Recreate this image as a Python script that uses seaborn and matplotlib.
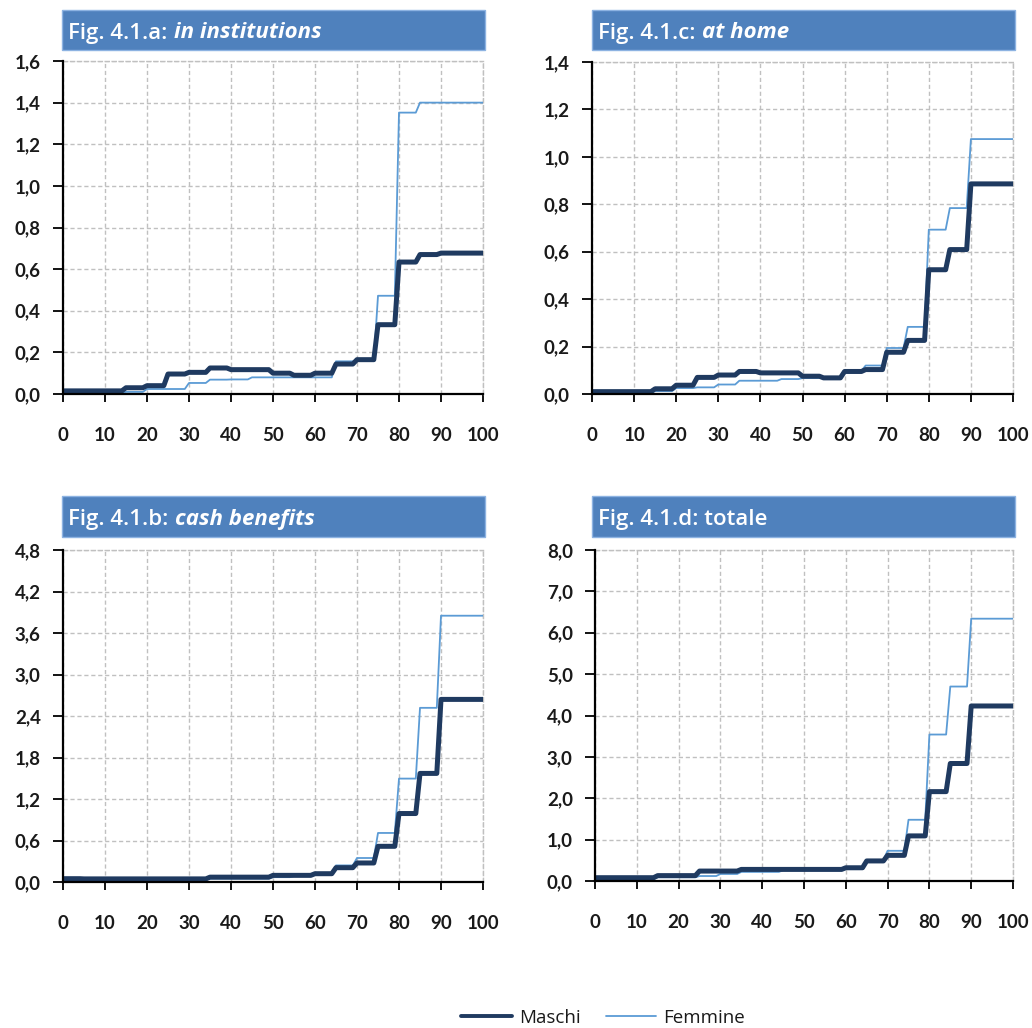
import numpy as np
import pandas as pd
import matplotlib
matplotlib.use("Agg")
import matplotlib.pyplot as plt
from matplotlib.patches import Rectangle
from matplotlib.lines import Line2D
from matplotlib.ticker import FuncFormatter, MultipleLocator
import seaborn as sns

# ---------------- data (values per 5-year age band: 0-4, 5-9, ..., 95+) ----------------
band_starts = [0, 5, 10, 15, 20, 25, 30, 35, 40, 45, 50, 55, 60, 65, 70, 75, 80, 85, 90, 95]

inst_maschi = [0.015, 0.015, 0.015, 0.03, 0.04, 0.096, 0.104, 0.125, 0.117, 0.117,
               0.10, 0.09, 0.10, 0.144, 0.165, 0.333, 0.634, 0.67, 0.677, 0.677]
inst_femmine = [0.005, 0.005, 0.005, 0.01, 0.024, 0.024, 0.053, 0.069, 0.07, 0.08,
                0.08, 0.08, 0.08, 0.157, 0.16, 0.472, 1.352, 1.40, 1.40, 1.40]

home_maschi = [0.01, 0.01, 0.01, 0.022, 0.037, 0.07, 0.08, 0.095, 0.089, 0.089,
               0.075, 0.068, 0.095, 0.103, 0.176, 0.226, 0.524, 0.609, 0.886, 0.886]
home_femmine = [0.005, 0.005, 0.005, 0.012, 0.025, 0.028, 0.04, 0.056, 0.056, 0.063,
                0.067, 0.07, 0.098, 0.12, 0.194, 0.283, 0.693, 0.784, 1.075, 1.075]

cash_maschi = [0.048, 0.045, 0.045, 0.045, 0.045, 0.045, 0.045, 0.07, 0.07, 0.07,
               0.096, 0.096, 0.12, 0.207, 0.275, 0.516, 0.99, 1.57, 2.64, 2.64]
cash_femmine = [0.03, 0.03, 0.03, 0.03, 0.03, 0.03, 0.03, 0.05, 0.05, 0.05,
                0.07, 0.085, 0.11, 0.24, 0.347, 0.709, 1.495, 2.518, 3.85, 3.85]

tot_maschi = [0.08, 0.08, 0.08, 0.13, 0.13, 0.24, 0.24, 0.28, 0.28, 0.28,
              0.28, 0.28, 0.32, 0.485, 0.62, 1.09, 2.16, 2.84, 4.23, 4.23]
tot_femmine = [0.04, 0.04, 0.04, 0.09, 0.09, 0.12, 0.17, 0.22, 0.22, 0.26,
               0.26, 0.26, 0.30, 0.51, 0.73, 1.48, 3.54, 4.70, 6.34, 6.34]

series_names = ["Maschi", "Femmine"]
panel_prefix = ["Fig. 4.1.a: ", "Fig. 4.1.c: ", "Fig. 4.1.b: ", "Fig. 4.1.d: totale"]
panel_italic = ["in institutions", "at home", "cash benefits", ""]
y_max = [1.6, 1.4, 4.8, 8.0]
y_step = [0.2, 0.2, 0.6, 1.0]
x_ticks = [0, 10, 20, 30, 40, 50, 60, 70, 80, 90, 100]

# ---------------- styling ----------------
sns.set_style("white")
plt.rcParams["font.family"] = ["Lato", "DejaVu Sans"]
TITLE_FONT = ["Open Sans", "DejaVu Sans"]

DARK = "#1f3a60"
LIGHT = "#5b9bd5"
BAR = "#4f81bd"
TXT = "#1a1a1a"
GRID = "#c0c0c0"

W, H = 1032, 1028
fig = plt.figure(figsize=(W / 100, H / 100), dpi=100)

def fx(px):
    return px / W

def fy(py):
    return 1 - py / H

# axes boxes in pixels: left, top, right, bottom
ax_boxes = [(63, 61, 483, 394), (592, 62, 1013, 394),
            (63, 550, 483, 882), (595, 550, 1013, 881)]
bar_boxes = [(62, 10, 485, 50), (592, 10, 1015, 50),
             (62, 496, 485, 537), (592, 496, 1015, 537)]

data_sets = [(inst_maschi, inst_femmine), (home_maschi, home_femmine),
             (cash_maschi, cash_femmine), (tot_maschi, tot_femmine)]

ages = np.arange(0, 101)

def expand(vals):
    idx = np.minimum(ages // 5, len(band_starts) - 1)
    return np.asarray(vals)[idx]

fmt = FuncFormatter(lambda v, p: f"{v:.1f}".replace(".", ","))

for i in range(4):
    l, t, r, b = ax_boxes[i]
    ax = fig.add_axes([fx(l), fy(b), fx(r) - fx(l), fy(t) - fy(b)])
    m, f = data_sets[i]
    df = pd.DataFrame({
        "age": np.concatenate([ages, ages]),
        "value": np.concatenate([expand(m), expand(f)]),
        "sex": [series_names[0]] * len(ages) + [series_names[1]] * len(ages),
    })
    sns.lineplot(data=df[df.sex == "Femmine"], x="age", y="value", ax=ax,
                 color=LIGHT, linewidth=1.3, legend=False, zorder=3)
    sns.lineplot(data=df[df.sex == "Maschi"], x="age", y="value", ax=ax,
                 color=DARK, linewidth=3.6, legend=False, zorder=4)
    ax.set_xlim(0, 100)
    ax.set_ylim(0, y_max[i])
    ax.set_xticks(x_ticks)
    ax.yaxis.set_major_locator(MultipleLocator(y_step[i]))
    ax.yaxis.set_major_formatter(fmt)
    ax.set_xlabel("")
    ax.set_ylabel("")
    ax.grid(True, color=GRID, linestyle=(0, (3, 2)), linewidth=1.0)
    ax.set_axisbelow(True)
    for s in ["top", "right"]:
        ax.spines[s].set_color(GRID)
        ax.spines[s].set_linestyle((0, (3, 2)))
        ax.spines[s].set_linewidth(1.0)
    for s in ["left", "bottom"]:
        ax.spines[s].set_color("black")
        ax.spines[s].set_linewidth(1.6)
        ax.spines[s].set_zorder(5)
    ax.tick_params(axis="x", direction="out", length=6, width=1.3, color="black",
                   pad=18, labelsize=13.5, labelcolor=TXT)
    ax.tick_params(axis="y", direction="out", length=7, width=1.3, color="black",
                   pad=9, labelsize=13.5, labelcolor=TXT)
    ax.tick_params(left=True, bottom=True, top=False, right=False)
    for lab in ax.get_xticklabels() + ax.get_yticklabels():
        lab.set_fontweight("bold")

    # title bar
    bl, bt, br, bb = bar_boxes[i]
    rect = Rectangle((fx(bl), fy(bb)), fx(br) - fx(bl), fy(bt) - fy(bb),
                     transform=fig.transFigure, facecolor=BAR,
                     edgecolor="#8db3e2", linewidth=1.0, zorder=0)
    fig.patches.append(rect)
    t1 = fig.text(fx(bl + 6), fy((bt + bb) / 2 + 3), panel_prefix[i], color="white",
                  fontsize=16, fontweight="semibold", va="center", ha="left",
                  family=TITLE_FONT)
    if panel_italic[i]:
        t2 = fig.text(0, 0, panel_italic[i], color="white", fontsize=16,
                      fontweight="bold", fontstyle="italic", va="baseline", ha="left",
                      family=TITLE_FONT)
        t2._anchor_after = t1

# place italic parts right after their prefixes
fig.canvas.draw()
renderer = fig.canvas.get_renderer()
for txt in list(fig.texts):
    prev = getattr(txt, "_anchor_after", None)
    if prev is not None:
        bbx = prev.get_window_extent(renderer)
        _, hh, d = renderer.get_text_width_height_descent(
            prev.get_text(), prev.get_fontproperties(), ismath=False)
        txt.set_position(((bbx.x1 + 1) / fig.bbox.width, (bbx.y0 + d) / fig.bbox.height))

handles = [Line2D([], [], color=DARK, linewidth=2.8),
           Line2D([], [], color=LIGHT, linewidth=1.3)]
leg = fig.legend(handles, series_names,
                 loc="center", bbox_to_anchor=(fx(603), fy(1018)), ncol=2,
                 frameon=False, handlelength=2.7, columnspacing=1.35,
                 handletextpad=0.35, prop={"family": TITLE_FONT, "size": 13.5})
for t in leg.get_texts():
    t.set_color(TXT)

fig.savefig("out.png", dpi=100, facecolor="white")
